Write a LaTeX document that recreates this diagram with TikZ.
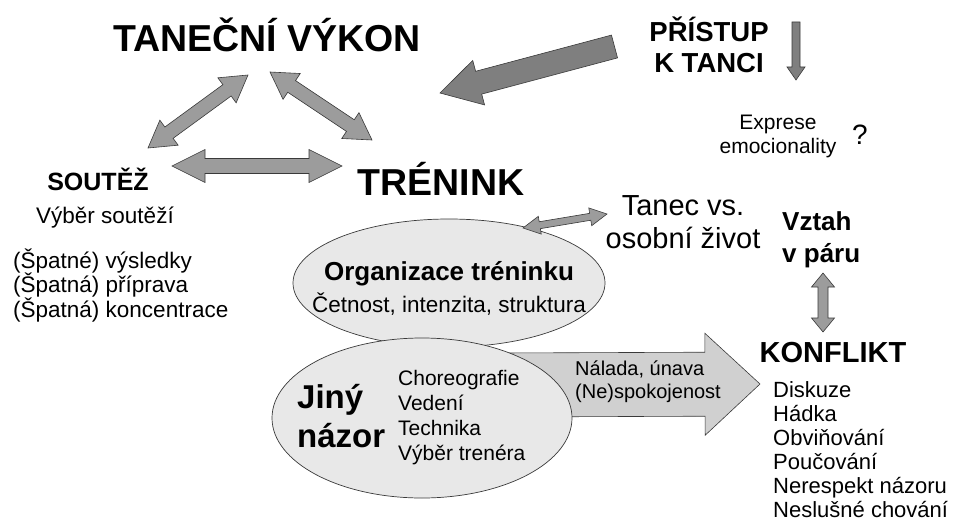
\documentclass[tikz,border=0pt]{standalone}
\usepackage{fontspec}
\setmainfont{Liberation Sans}
\usetikzlibrary{calc,positioning,shapes.geometric}
\definecolor{edgegray}{HTML}{3A3A3A}
\definecolor{darkarrow}{HTML}{7F7F7F}
\definecolor{lightarrow}{HTML}{9C9C9C}
\definecolor{moodfill}{HTML}{D0D0D0}
\definecolor{ovalfill}{HTML}{E8E8E8}

% one-way block arrow: style, from, to, shaft half, head half, head length
\newcommand{\blockarrow}[6]{%
  \coordinate (ba-h) at ($(#3)!#6!(#2)$);
  \draw[#1] ($(#2)!#4!90:(#3)$) -- ($(ba-h)!#4!-90:(#2)$) -- ($(ba-h)!#5!-90:(#2)$) -- (#3)
    -- ($(ba-h)!#5!90:(#2)$) -- ($(ba-h)!#4!90:(#2)$) -- ($(#2)!#4!-90:(#3)$) -- cycle;
}
% two-way block arrow, same arguments
\newcommand{\twowayarrow}[6]{%
  \coordinate (tw-a) at ($(#2)!#6!(#3)$);
  \coordinate (tw-b) at ($(#3)!#6!(#2)$);
  \draw[#1] (#2) -- ($(tw-a)!#5!90:(#3)$) -- ($(tw-a)!#4!90:(#3)$) -- ($(tw-b)!#4!-90:(#2)$)
    -- ($(tw-b)!#5!-90:(#2)$) -- (#3) -- ($(tw-b)!#5!90:(#2)$) -- ($(tw-b)!#4!90:(#2)$)
    -- ($(tw-a)!#4!-90:(#3)$) -- ($(tw-a)!#5!-90:(#3)$) -- cycle;
}

\begin{document}
\begin{tikzpicture}[x=1pt, y=-1pt,
    every node/.style={inner sep=0pt},
    bighead/.style={font=\bfseries\fontsize{37.5}{42}\selectfont},
    midhead/.style={font=\bfseries\fontsize{27.5}{31}\selectfont},
    smallhead/.style={font=\bfseries\fontsize{25}{32}\selectfont},
    plain/.style={font=\fontsize{22.5}{24.5}\selectfont},
    oval/.style={ellipse, draw=edgegray, line width=0.7pt, fill=ovalfill},
    greyarrow/.style={draw=edgegray, line width=0.6pt, fill=lightarrow},
    darkblock/.style={draw=edgegray, line width=0.6pt, fill=darkarrow},
    moodarrow/.style={draw=edgegray, line width=0.6pt, fill=moodfill}
]
\useasboundingbox (0,0) rectangle (958,527);

% main headings (multi-line nodes sit on their last baseline)
\node[bighead, anchor=base] (vykon) at (267,52) {TANEČNÍ VÝKON};
\node[bighead, anchor=base] (trenink) at (441,195) {TRÉNINK};
\node[midhead, anchor=base, align=center] (pristup) at (709,72) {PŘÍSTUP\\K TANCI};
\node[smallhead, anchor=base] (soutez) at (98,190) {SOUTĚŽ};
\node[plain, anchor=base] (vyber) at (105,223) {Výběr soutěží};
\node[plain, anchor=base west, align=left] (spatne) at (13,317)
  {(Špatné) výsledky\\(Špatná) příprava\\(Špatná) koncentrace};

% right side
\node[font=\fontsize{21}{24}\selectfont, anchor=base, align=center] (expr) at (778,153)
  {Exprese\\emocionality};
\node[font=\fontsize{28}{30}\selectfont] (otazka) at (860,135) {?};
\node[font=\fontsize{29}{33}\selectfont, anchor=base, align=center] (tanec) at (683,248)
  {Tanec vs.\\osobní život};
\node[font=\bfseries\fontsize{26}{32}\selectfont, anchor=base west, align=left] (vztah) at (782,262)
  {Vztah\\v páru};
\node[font=\bfseries\fontsize{29}{32}\selectfont, anchor=base] (konflikt) at (833,362) {KONFLIKT};
\node[font=\fontsize{22}{24}\selectfont, anchor=base west, align=left] (projevy) at (773,517)
  {Diskuze\\Hádka\\Obviňování\\Poučování\\Nerespekt názoru\\Neslušné chování};

% ovals and the mood arrow between them
\node[oval, minimum width=312, minimum height=128] (org) at (449,283) {};
\node[font=\fontsize{22.5}{32}\selectfont, anchor=base, align=center] (orgtext) at (449,312)
  {{\bfseries\fontsize{26}{32}\selectfont Organizace tréninku}\\Četnost, intenzita, struktura};
\coordinate (jiny-e) at (500,385);
\coordinate (konflikt-w) at (760,384);
\blockarrow{moodarrow}{jiny-e}{konflikt-w}{32pt}{51pt}{55pt}
\node[font=\fontsize{20}{23}\selectfont, anchor=base west, align=left] (nalada) at (575,398)
  {Nálada, únava\\(Ne)spokojenost};
\node[oval, minimum width=300, minimum height=160] (jiny) at (422,418) {};
\node[font=\bfseries\fontsize{33}{39}\selectfont, anchor=base west, align=left] (nazor) at (297,447)
  {Jiný\\názor};
\node[font=\fontsize{21}{25}\selectfont, anchor=base west, align=left] (temata) at (398,460)
  {Choreografie\\Vedení\\Technika\\Výběr trenéra};

% arrow ends
\coordinate (vykon-l) at (248,75);
\coordinate (soutez-n) at (148,148);
\coordinate (vykon-r) at (270,72);
\coordinate (trenink-n) at (372,140);
\coordinate (soutez-e) at (172,166);
\coordinate (trenink-w) at (342,166);
\coordinate (pristup-w) at (614.5,46.5);
\coordinate (vykon-e) at (440,93);
\coordinate (pristup-e) at (796,22);
\coordinate (expr-n) at (796,80);
\coordinate (org-ne) at (523,228);
\coordinate (tanec-w) at (607,214);
\coordinate (vztah-s) at (823,273);
\coordinate (konflikt-n) at (823,332);

% arrows
\twowayarrow{greyarrow}{soutez-n}{vykon-l}{7pt}{15.5pt}{26pt}
\twowayarrow{greyarrow}{vykon-r}{trenink-n}{7pt}{15.5pt}{26pt}
\twowayarrow{greyarrow}{soutez-e}{trenink-w}{7.5pt}{16.5pt}{33pt}
\blockarrow{darkblock}{pristup-w}{vykon-e}{11.8pt}{23pt}{40pt}
\blockarrow{darkblock}{pristup-e}{expr-n}{4pt}{9pt}{13pt}
\twowayarrow{greyarrow}{org-ne}{tanec-w}{3.5pt}{9pt}{17pt}
\twowayarrow{greyarrow}{vztah-s}{konflikt-n}{5pt}{11.5pt}{14pt}
\end{tikzpicture}
\end{document}
